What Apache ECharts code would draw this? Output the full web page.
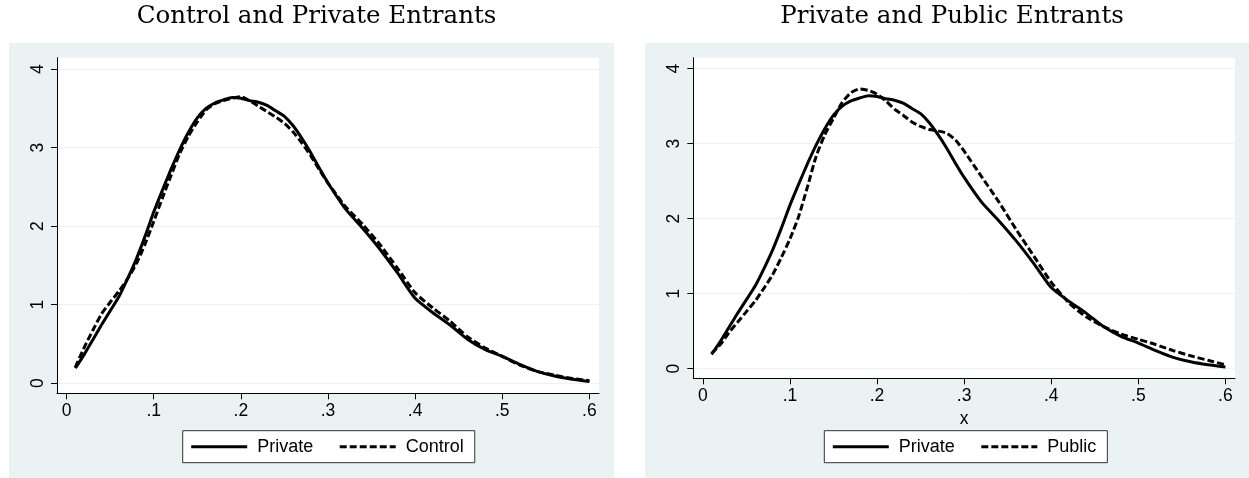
<!DOCTYPE html>
<html>
<head>
<meta charset="utf-8">
<script src="https://cdn.jsdelivr.net/npm/echarts@6/dist/echarts.min.js"></script>
<style>
html,body{margin:0;padding:0;background:#fff;}
#c{width:1249px;height:478px;}
</style>
</head>
<body>
<div id="c"></div>
<script>
// ---- data ----
const xs = [0.01,0.02,0.03,0.04,0.05,0.06,0.07,0.08,0.09,0.10,0.11,0.12,0.13,0.14,0.15,0.16,0.17,0.18,0.19,0.20,0.21,0.22,0.23,0.24,0.25,0.26,0.27,0.28,0.29,0.30,0.32,0.34,0.36,0.38,0.40,0.42,0.44,0.46,0.48,0.50,0.52,0.54,0.56,0.58,0.60];
const privateY = [0.19,0.36,0.55,0.74,0.92,1.10,1.33,1.58,1.87,2.18,2.46,2.73,2.98,3.20,3.38,3.50,3.57,3.61,3.64,3.63,3.60,3.58,3.54,3.47,3.40,3.28,3.12,2.94,2.74,2.55,2.22,1.97,1.70,1.40,1.08,0.90,0.74,0.56,0.43,0.34,0.24,0.15,0.09,0.05,0.02];
const controlY = [0.20,0.45,0.67,0.88,1.03,1.17,1.33,1.52,1.77,2.06,2.36,2.65,2.93,3.15,3.33,3.48,3.56,3.60,3.63,3.65,3.60,3.53,3.46,3.39,3.31,3.20,3.06,2.90,2.72,2.55,2.25,2.02,1.76,1.46,1.15,0.96,0.79,0.59,0.45,0.34,0.23,0.15,0.10,0.06,0.03];
const publicY = [0.20,0.32,0.48,0.62,0.76,0.90,1.07,1.25,1.48,1.73,2.03,2.42,2.83,3.12,3.34,3.55,3.68,3.73,3.71,3.66,3.57,3.46,3.38,3.29,3.23,3.19,3.17,3.14,3.05,2.90,2.56,2.22,1.85,1.50,1.15,0.88,0.69,0.56,0.46,0.39,0.32,0.24,0.17,0.11,0.05];
const xTickValues = [0,0.1,0.2,0.3,0.4,0.5,0.6];
const xTickLabels = ['0','.1','.2','.3','.4','.5','.6'];
const yTickValues = [0,1,2,3,4];
const yTickLabels = ['0','1','2','3','4'];
const titles = ['Control and Private Entrants','Private and Public Entrants'];
const legendNames = [['Private','Control'],['Private','Public']];

// ---- chart ----
const pair = ys => xs.map((x,i)=>[x,ys[i]]);
const PANEL = '#eaf2f3';
const FONT = '"Liberation Sans", Arial, sans-serif';
const SERIF = '"DejaVu Serif", "Liberation Serif", serif';

function xLab(v){ const i = xTickValues.findIndex(t=>Math.abs(t-v)<1e-9); return i>=0?xTickLabels[i]:''; }
function yLab(v){ const i = yTickValues.findIndex(t=>Math.abs(t-v)<1e-9); return i>=0?yTickLabels[i]:''; }

function xAxisCfg(gi, name){
  return {
    type:'value', gridIndex:gi, min:-0.011, max:0.611,
    name: name || '', nameLocation:'middle', nameGap:25,
    nameTextStyle:{fontFamily:FONT,fontSize:17.5,color:'#000'},
    axisLine:{show:true,onZero:false,lineStyle:{color:'#000',width:1}},
    axisTick:{show:true,length:6,customValues:xTickValues,lineStyle:{color:'#000'}},
    axisLabel:{customValues:xTickValues,formatter:xLab,margin:9,fontFamily:FONT,fontSize:17.5,color:'#000'},
    splitLine:{show:false}
  };
}
function yAxisCfg(gi){
  return {
    type:'value', gridIndex:gi, min:-0.13, max:4.147,
    axisLine:{show:true,onZero:false,lineStyle:{color:'#000',width:1}},
    axisTick:{show:true,length:6,customValues:yTickValues,lineStyle:{color:'#000'}},
    axisLabel:{customValues:yTickValues,formatter:yLab,rotate:90,margin:10,fontFamily:FONT,fontSize:17.5,color:'#000'},
    splitLine:{show:true,lineStyle:{color:PANEL,width:1}}
  };
}
function lineSeries(name, ys, gi, dashed){
  return {
    type:'line', name:name, xAxisIndex:gi, yAxisIndex:gi, data:pair(ys),
    symbol:'none', symbolSize:0, smooth:0.2, silent:true,
    lineStyle:{color:'#000',width:3,type: dashed?[7,3]:'solid'},
    itemStyle:{color:'#000'},
    z: dashed?3:2
  };
}
function legendCfg(i, left){
  return {data:legendNames[i],left:left,top:430.7,orient:'horizontal',selectedMode:false,
    itemWidth:56,itemHeight:14,itemGap:25,padding:[7,11,7,7],
    backgroundColor:'#fff',borderColor:'#333',borderWidth:1,borderRadius:0,
    itemStyle:{opacity:0},
    lineStyle:{width:3},
    textStyle:{fontFamily:FONT,fontSize:18,color:'#000',padding:[0,0,0,5]}};
}

const chart = echarts.init(document.getElementById('c'), null, {renderer:'canvas'});
chart.setOption({
  backgroundColor:'#fff',
  animation:false,
  graphic:{elements:[
    {type:'rect',z:-10,silent:true,shape:{x:9,y:43,width:605,height:435},style:{fill:PANEL}},
    {type:'rect',z:-10,silent:true,shape:{x:645,y:43,width:604,height:435},style:{fill:PANEL}}
  ]},
  title:[
    {text:titles[0],left:311.5,top:-1,textAlign:'center',textStyle:{fontFamily:SERIF,fontWeight:'normal',fontSize:24.5,color:'#000'}},
    {text:titles[1],left:947,top:-1,textAlign:'center',textStyle:{fontFamily:SERIF,fontWeight:'normal',fontSize:24.5,color:'#000'}}
  ],
  grid:[
    {left:57,top:57.7,width:542,height:335.6,show:true,backgroundColor:'#fff',borderWidth:0},
    {left:693.3,top:57.7,width:541.7,height:320.6,show:true,backgroundColor:'#fff',borderWidth:0}
  ],
  xAxis:[xAxisCfg(0), xAxisCfg(1,'x')],
  yAxis:[yAxisCfg(0), yAxisCfg(1)],
  legend:[legendCfg(0,182.7), legendCfg(1,824.3)],
  series:[
    lineSeries('Private', privateY, 0, false),
    lineSeries('Control', controlY, 0, true),
    lineSeries('Private', privateY, 1, false),
    lineSeries('Public', publicY, 1, true)
  ]
});
</script>
</body>
</html>
